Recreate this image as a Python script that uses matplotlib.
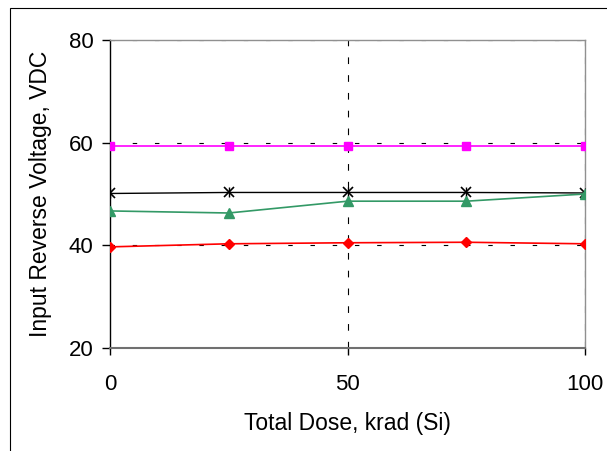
import matplotlib.pyplot as plt
from matplotlib.patches import Rectangle

plt.rcParams['font.family'] = ['Liberation Sans', 'DejaVu Sans']

# dati
dose = [0, 25, 50, 75, 100]
v_magenta = [59.4, 59.4, 59.4, 59.4, 59.4]
v_nero = [50.1, 50.3, 50.3, 50.3, 50.2]
v_verde = [46.7, 46.3, 48.6, 48.6, 50.0]
v_rosso = [39.7, 40.3, 40.5, 40.6, 40.3]

fig = plt.figure(figsize=(6.07, 4.51), dpi=100)
# cornice esterna (aperta a destra e in basso)
fig.add_artist(Rectangle((10/607, -0.1), 1.2, 1 - 8/451 + 0.1, transform=fig.transFigure,
                         fill=False, edgecolor='black', linewidth=0.8))
ax = fig.add_axes([110/607, 1 - 348/451, 475/607, 308/451])

ax.set_xlim(0, 100)
ax.set_ylim(20, 80)

# griglia tratteggiata
for yv in [40, 60, 80]:
    ax.axhline(yv, color='black', lw=0.8, ls=(0, (4, 16)), zorder=1)
for xv in [50, 100]:
    ax.axvline(xv, color='black', lw=0.8, ls=(0, (6, 10)), zorder=1)

ax.plot(dose, v_magenta, color='#ff00ff', lw=1.2, marker='s', ms=6, zorder=3)
ax.plot(dose, v_nero, color='black', lw=1.0, marker='x', ms=7, mew=1.2, zorder=3)
ax.plot(dose, v_nero, ls='none', color='black', marker='|', ms=7, mew=1.0, zorder=3)
ax.plot(dose, v_verde, color='#339966', lw=1.2, marker='^', ms=7, zorder=3)
ax.plot(dose, v_rosso, color='#ff0000', lw=1.2, marker='D', ms=5, zorder=3)

for s in ['top', 'right', 'bottom']:
    ax.spines[s].set_color('#909090')
    ax.spines[s].set_linewidth(1.0)
ax.spines['bottom'].set_color('#707070')
ax.spines['bottom'].set_linewidth(1.5)
ax.spines['left'].set_color('black')
ax.spines['left'].set_linewidth(1.0)

ax.set_xticks([0, 50, 100])
ax.set_yticks([20, 40, 60, 80])
ax.tick_params(axis='y', direction='out', length=6, width=1, pad=6, labelsize=16)
ax.tick_params(axis='x', direction='out', length=5, width=1, pad=14, labelsize=16)

ax.set_xlabel('Total Dose, krad (Si)', fontsize=16.5, labelpad=12)
ax.set_ylabel('Input Reverse Voltage, VDC', fontsize=16.5, labelpad=12)

fig.savefig('out.png', dpi=100)
